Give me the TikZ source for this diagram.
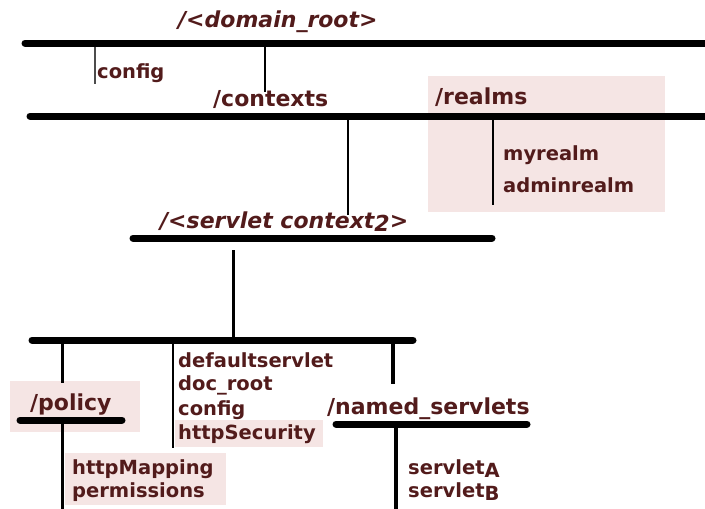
\documentclass[tikz,border=0pt]{standalone}
\usepackage{fontspec}
\setmainfont{DejaVu Sans}
\definecolor{txt}{HTML}{521B1B}
\definecolor{boxfill}{HTML}{F5E5E4}
\begin{document}
\begin{tikzpicture}[x=1pt,y=-1pt,
  bar/.style={line width=7pt,line cap=round},
  branch/.style={line width=2.5pt},
  thin/.style={line width=1.2pt,black!70},
  pinkbox/.style={fill=boxfill,draw=none},
  item/.style={anchor=base west,inner sep=0pt,text=txt,font=\fontsize{19.5}{23}\selectfont\bfseries},
  head/.style={anchor=base west,inner sep=0pt,text=txt,font=\fontsize{22}{26}\selectfont\bfseries},
  ihead/.style={anchor=base west,inner sep=0pt,text=txt,font=\fontsize{22}{26}\selectfont\bfseries\itshape}]
\useasboundingbox (0,0) rectangle (705,509);
% shaded boxes
\fill[pinkbox] (428,76) rectangle (665,212);
\fill[pinkbox] (10,381) rectangle (140,432);
\fill[pinkbox] (65,453) rectangle (226,505);
\fill[pinkbox] (175,420) rectangle (323,447);
% coordinates for bars
\coordinate (b1w) at (25,43);  \coordinate (b1e) at (712,43);
\coordinate (b2w) at (30,116); \coordinate (b2e) at (712,116);
\coordinate (b3w) at (133,238); \coordinate (b3e) at (492,238);
\coordinate (b4w) at (32,340); \coordinate (b4e) at (413,340);
\coordinate (b5w) at (20,420); \coordinate (b5e) at (122,420);
\coordinate (b6w) at (336,424); \coordinate (b6e) at (527,424);
\draw[bar] (b1w) -- (b1e);
\draw[bar] (b2w) -- (b2e);
\draw[bar] (b3w) -- (b3e);
\draw[bar] (b4w) -- (b4e);
\draw[bar] (b5w) -- (b5e);
\draw[bar] (b6w) -- (b6e);
% texts
\node[ihead] (root) at (178,27) {/<domain\_root>};
\node[item] (config1) at (97,78) {config};
\node[head] (contexts) at (213,106) {/contexts};
\node[head] (realms) at (435,104) {/realms};
\node[item] (myrealm) at (503,160) {myrealm};
\node[item] (adminrealm) at (503,192) {adminrealm};
\node[ihead] (ctx2) at (160,228) {/<servlet context\raisebox{-0.25ex}{2}>};
\node[head] (policy) at (30,410) {/policy};
\node[item] (httpmap) at (72,474) {httpMapping};
\node[item] (perms) at (72,497) {permissions};
\node[item] (defsrv) at (178,367) {defaultservlet};
\node[item] (docroot) at (178,390) {doc\_root};
\node[item] (config2) at (178,415) {config};
\node[item] (httpsec) at (178,439) {httpSecurity};
\node[head] (named) at (327,414) {/named\_servlets};
\node[item] (srvA) at (408,474) {servlet\raisebox{-0.3ex}{A}};
\node[item] (srvB) at (408,497) {servlet\raisebox{-0.3ex}{B}};
% branch coordinates
\coordinate (c1a) at (95,47);  \coordinate (c1b) at (95,84);
\coordinate (c2a) at (265,43); \coordinate (c2b) at (265,92);
\coordinate (c3a) at (493,120); \coordinate (c3b) at (493,205);
\coordinate (c4a) at (348,116); \coordinate (c4b) at (348,215);
\coordinate (c5a) at (233,250); \coordinate (c5b) at (233,340);
\coordinate (c6a) at (62,340); \coordinate (c6b) at (62,383);
\coordinate (c7a) at (62,420); \coordinate (c7b) at (62,509);
\coordinate (c8a) at (173,340); \coordinate (c8b) at (173,448);
\coordinate (c9a) at (393,340); \coordinate (c9b) at (393,384);
\coordinate (c10a) at (396,424); \coordinate (c10b) at (396,509);
\draw[thin] (c1a) -- (c1b);
\draw[branch] (c2a) -- (c2b);
\draw[branch,line width=2pt] (c3a) -- (c3b);
\draw[branch] (c4a) -- (c4b);
\draw[branch,line width=3pt] (c5a) -- (c5b);
\draw[branch,line width=3pt] (c6a) -- (c6b);
\draw[branch,line width=3pt] (c7a) -- (c7b);
\draw[branch] (c8a) -- (c8b);
\draw[branch,line width=3.5pt] (c9a) -- (c9b);
\draw[branch,line width=3.5pt] (c10a) -- (c10b);
\end{tikzpicture}
\end{document}
